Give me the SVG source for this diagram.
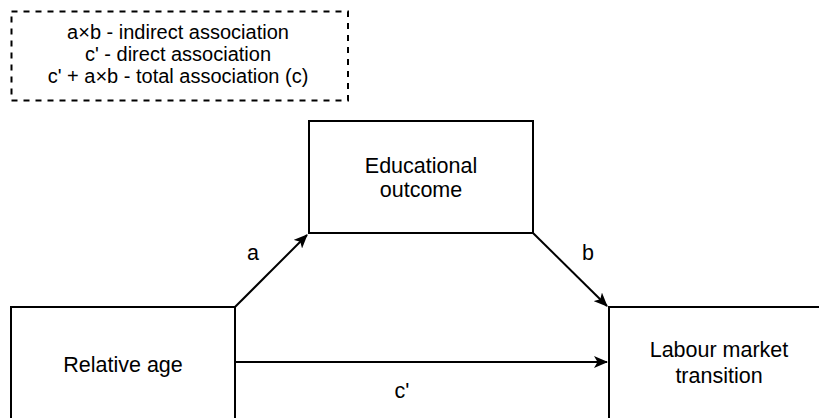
<svg xmlns="http://www.w3.org/2000/svg" width="819" height="418" viewBox="0 0 819 418">
<style>
.box{fill:#fff;stroke:#000;stroke-width:2}
.leg{fill:none;stroke:#000;stroke-width:2;stroke-dasharray:6 6}
.t{font-family:"Liberation Sans",Arial,sans-serif;font-size:21.5px;fill:#000;text-anchor:middle}
.tl{font-family:"Liberation Sans",Arial,sans-serif;font-size:20px;fill:#000;text-anchor:middle}
.e{fill:none;stroke:#000;stroke-width:2}
</style>
<defs>
<marker id="ah" viewBox="0 0 14 12" refX="13" refY="6" markerWidth="14" markerHeight="12" markerUnits="userSpaceOnUse" orient="auto">
<path d="M0,0 L14,6 L0,12 L3.5,6 Z" fill="#000"/>
</marker>
</defs>
<g id="legend">
<rect class="leg" x="11.5" y="11.5" width="336.5" height="89"/>
<text class="tl" x="178" y="39">a×b - indirect association</text>
<text class="tl" x="178" y="61">c' - direct association</text>
<text class="tl" x="178" y="83">c' + a×b - total association (c)</text>
</g>
<g id="connectors">
<path class="e" d="M235,307 L307,235" marker-end="url(#ah)"/>
<path class="e" d="M533,233 L607,306" marker-end="url(#ah)"/>
<path class="e" d="M235,362 L607,362" marker-end="url(#ah)"/>
<text class="t" x="253" y="260">a</text>
<text class="t" x="588" y="260">b</text>
<text class="t" x="402" y="398">c'</text>
</g>
<g id="educational">
<rect class="box" x="309" y="121" width="224" height="112"/>
<text class="t" x="421" y="172.5">Educational</text>
<text class="t" x="421" y="197">outcome</text>
</g>
<g id="relative">
<rect class="box" x="11" y="307" width="224" height="112"/>
<text class="t" x="123" y="371.5">Relative age</text>
</g>
<g id="labour">
<rect class="box" x="609" y="307" width="224" height="112"/>
<text class="t" x="719" y="357">Labour market</text>
<text class="t" x="719" y="383">transition</text>
</g>
</svg>
